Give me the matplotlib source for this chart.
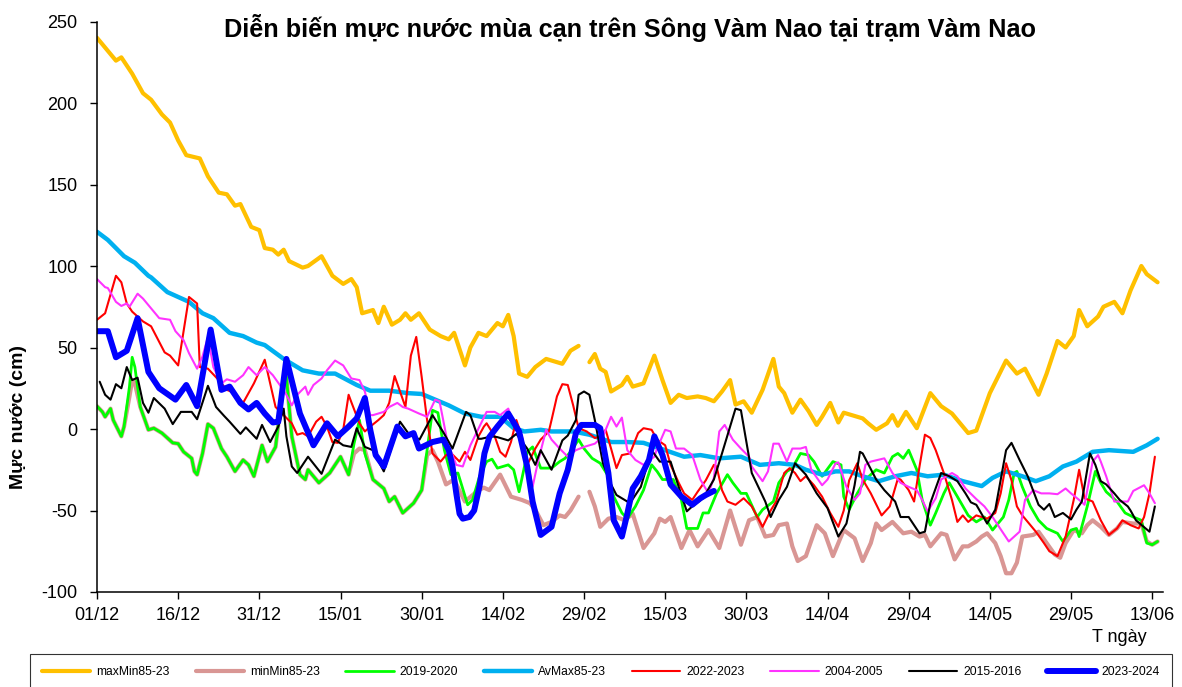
import numpy as np
import matplotlib
matplotlib.use("Agg")
import matplotlib.pyplot as plt

nan = np.nan

# ---------------- data (day offset from 01/12, value in cm) ----------------
tick_days = [0, 15, 30, 45, 60, 75, 90, 105, 120, 135, 150, 165, 180, 195]
tick_labels = ["01/12", "16/12", "31/12", "15/01", "30/01", "14/02", "29/02",
               "15/03", "30/03", "14/04", "29/04", "14/05", "29/05", "13/06"]

maxmin_d = [0, 3.5, 4.5, 6.5, 8.5, 10, 12, 13.5, 15, 16.5,
            19, 20.5, 22.5, 24, 25.5, 26.5, 28.5, 30, 31, 32.5,
            33.5, 34.5, 35.5, 38, 39, 41.5, 43.5, 45.5, 47, 48,
            49, 51, 52, 53, 54.5, 56, 57, 58, 59.5, 61.5,
            63.5, 65, 66, 68, 69, 70.5, 72, 74, 75, 76,
            77, 78, 79.5, 81, 83, 86, 87.5, 89, 90, 91,
            92, 93, 94, 95, 96.5, 97, 98, 99, 101, 103,
            104.5, 106, 107.5, 109, 111, 112.5, 114, 115.5, 117, 118,
            119.5, 121, 123, 125, 126, 127, 128.5, 130, 131.5, 133,
            134, 135.5, 137, 138, 141.5, 142.5, 144, 146, 147, 148,
            149.5, 151.5, 154, 156, 158, 161, 162.5, 165, 166.5, 168,
            170, 171.5, 174, 175.5, 177.5, 179, 180.5, 181.5, 183, 185,
            186, 188, 189.5, 191, 193, 194, 196]
maxmin_v = [240, 226, 228, 218, 206, 202, 193, 188, 177, 168,
            166, 155, 145, 144, 137, 138, 124, 122, 111, 110,
            107, 110, 103, 99, 100, 106, 94, 89, 92, 87,
            71, 73, 65, 75, 64, 67, 71, 67, 71, 61,
            57, 55, 59, 39, 50, 59, 57, 65, 63, 70,
            57, 34, 32, 38, 43, 40, 48, 51, nan, 41,
            46, 37, 35, 23, 26, 27, 32, 26, 28, 45,
            30, 16, 21, 19, 20, 19, 17, 23, 30, 15,
            17, 10, 24, 43, 26, 22, 10, 18, 11, 2.5,
            7.5, 16, 4, 10, 6.5, 3.5, -0.5, 3.5, 8.5, 2,
            10.5, 0.5, 22, 14, 9.5, -2.5, -1, 22, 32, 42,
            34, 37, 21, 34, 54, 50, 57, 73, 63, 69,
            75, 78, 71, 85, 100, 95, 90]

minmin_d = [0, 1, 1.5, 2.5, 3, 4.5, 5, 6, 6.5, 7,
            8, 9.5, 10.5, 12, 14, 15, 16, 17.5, 18, 18.5,
            19.5, 20.5, 21.5, 23, 24, 25.5, 27, 28, 29, 30.5,
            31.5, 33, 34.5, 35, 36, 37.5, 38.5, 39, 41, 43,
            45, 46.5, 47.5, 48.5, 49.5, 51, 53, 54, 55, 56.5,
            58.5, 60, 61, 62, 63, 64.5, 66, 67, 68, 70.5,
            71.5, 72.5, 74.5, 76.5, 78.5, 80, 81, 82.5, 84, 85.5,
            86.5, 87.5, 89, 90, 91, 92, 93, 94.5, 96, 97.5,
            99, 101, 103, 104, 105, 106, 108, 109.5, 111, 113,
            115, 117, 119, 120.5, 122, 123.5, 125, 126, 127.5, 128.5,
            129.5, 131, 133, 134.5, 136, 138, 140, 141.5, 143, 144,
            145, 147, 149, 150.5, 152, 153, 154, 156, 157, 158.5,
            160, 161, 162.5, 163.5, 164.5, 166, 167, 168, 169, 170,
            171, 173, 174, 175.5, 177, 178, 179, 180.5, 182, 183,
            184, 185.5, 187, 188.5, 189.5, 191.5, 193, 194, 195, 196]
minmin_v = [14, 10.5, 7.5, 12.5, 5.5, -4.5, 1.5, 20, 30, 28,
            13.5, -0.5, 0.5, -2.5, -8.5, -9, -14, -18, -26, -28,
            -15, 3, 0.5, -12, -17, -26, -19, -22, -29, -10,
            -20, -11, 30, 32, -4.5, -28, -31, -25, -33, -27,
            -17, -28, -15, -12, -13, -31, -36.5, -44.5, -41.5, -51.5,
            -45.5, -37.5, -16, -13, -20, -34, -31, -38, -44.5, -37.5,
            -36, -37.5, -28, -41.5, -43.5, -45.5, -49.5, -59, -57, -53,
            -54, -50, -41.5, nan, -38.5, -47.5, -60, -55, -54, -56,
            -52, -73, -64, -55, -57, -54, -73, -62, -72, -62,
            -73, -50, -71, -56, -54, -66, -65, -59, -58, -72,
            -81, -78, -59, -64, -78, -62, -67, -81, -70, -58,
            -62, -57, -64, -63, -66, -65, -72, -64, -65, -80,
            -72, -72, -69, -66, -64, -70, -78, -88.5, -88.5, -82,
            -66, -65, -63, -70, -77, -79, -70, -62, -64, -59,
            -56, -60, -65, -61, -57, -58, -58, -69, -71, -69]

y2019_d = [0, 1, 1.5, 2.5, 3, 4.5, 5, 6, 6.5, 7,
           8, 9.5, 10.5, 12, 14, 15, 16, 17.5, 18, 18.5,
           19.5, 20.5, 21.5, 23, 24, 25.5, 27, 28, 29, 30.5,
           31.5, 33, 34.5, 35, 36, 37.5, 38.5, 39, 41, 43,
           45, 46.5, 47.5, 48.5, 49.5, 51, 53, 54, 55, 56.5,
           58.5, 60, 61, 62, 63, 64.2, 65.4, 66.7, 68.5, 69.4,
           70.7, 72, 73, 74, 76, 77, 78, 79, 79.5, 80.5,
           82, 84, 85.5, 86.5, 87.5, 89, 90, 91.5, 93, 94.5,
           95.5, 97, 98, 99.5, 101, 102.5, 103.5, 104.5, 106.5, 108,
           109, 111, 112, 113, 114.5, 116.5, 117.5, 119, 120, 122,
           123, 125, 126, 127.5, 128.5, 130, 131.5, 132.5, 134, 136,
           137.5, 138, 139, 140.5, 142, 144, 145.5, 147, 148, 149,
           150, 151.5, 152.5, 154, 155, 156.5, 157.5, 159, 161, 162.5,
           164, 165.5, 167.5, 168.5, 169.5, 170, 171, 172.5, 174, 175.5,
           177.5, 178.5, 180, 181, 181.5, 183, 184.5, 185.5, 186.5, 188.5,
           190, 191.5, 193, 194, 195, 196]
y2019_v = [14, 10.5, 7.5, 12.5, 5.5, -4.5, 1.5, 26, 44, 38,
           13.5, -0.5, 0.5, -2.5, -8.5, -9, -14, -18, -26, -28,
           -15, 3, 0.5, -12, -17, -26, -19, -22, -29, -10,
           -20, -11, 30, 32, -4.5, -28, -31, -25, -33, -27,
           -17, -28, -9, 5.5, -15, -31, -36.5, -44.5, -41.5, -51.5,
           -45.5, -37.5, -13, 11.5, 10, -13, -28, -27, -46.5, -43.5,
           -29, -20, -18.5, -24, -22, -25, -38.5, -23, -14, -11,
           -24, -24, -20, -18, -14, -6.5, -12, -18, -21, -29,
           -41.5, -51.5, -55, -47.5, -37.5, -22, -26, -31, -31, -43.5,
           -61, -61, -51.5, -51.5, -39.5, -28, -33, -39.5, -39.5, -54,
           -49.5, -44.5, -33, -26, -24, -15, -16, -20, -29, -20,
           -22, -41.5, -49.5, -39.5, -31, -25, -27, -17, -15, -18,
           -13, -25, -43.5, -59, -51.5, -39.5, -33, -41.5, -53, -57,
           -54, -62, -54, -43.5, -27, -26, -35.5, -47.5, -56, -61,
           -64, -69, -62, -61, -66, -47.5, -26, -33, -38.5, -44.5,
           -51.5, -54, -56, -70, -71, -69]

avmax_d = [0, 2, 5, 7, 9.5, 10, 13, 17, 19.5, 21.5,
           24.5, 27, 29.5, 31, 34.5, 38, 41, 44, 48, 50.5,
           54, 57.5, 60, 62.5, 65, 68, 71, 74.5, 77, 79,
           82, 84, 88, 91, 95, 98, 101, 105, 108.5, 111.5,
           115, 119, 122.5, 126, 129, 131, 134, 136.5, 139, 141.5,
           144.5, 147.5, 150.5, 153.5, 156.5, 160, 163.5, 165.5, 168, 171,
           173.5, 176, 178.5, 181, 184, 187, 191.5, 194, 196]
avmax_v = [121, 116, 106, 102, 94, 93, 84, 78, 71, 68,
           59, 57, 53, 51.5, 43, 36, 34, 34, 27, 23.5,
           23.5, 22, 21.5, 18, 14.5, 9.5, 7.5, 7.5, 0.5, -1.5,
           -0.5, -1.5, -1.5, -3.5, -8, -8, -8.5, -13, -17, -16,
           -18, -17, -22, -21, -22, -25, -28, -26, -26, -29,
           -32, -29, -27, -29, -28, -32, -35, -30, -26, -29,
           -32, -29, -23, -20, -14, -13, -14, -10, -6]

y2022_d = [0, 1.5, 3.5, 4.5, 5.5, 6.5, 8.5, 10, 12.5, 13.5,
           15, 17, 18.5, 19, 20.5, 22.5, 24, 25.5, 27, 29,
           31, 33, 34.5, 36, 37, 38, 39, 40.5, 41.5, 42.5,
           43.5, 44.5, 45.5, 46.5, 47, 48.5, 49.5, 50.5, 52, 53,
           54, 55, 56, 57, 58, 59, 60, 61, 62, 63.5,
           64.5, 65.5, 67, 68, 69, 70.5, 71.5, 72, 73.5, 74.5,
           75.5, 76.5, 77.5, 78.5, 79.5, 81, 82, 83.5, 84, 85,
           86, 87, 88, 89, 90.5, 92, 93, 94, 95, 96,
           97, 98.5, 100, 101, 102.5, 103.5, 105, 106, 107.5, 108.5,
           110, 111, 112.5, 114, 114.5, 115.5, 116.5, 118, 119.5, 121,
           123, 124.5, 125.5, 127, 128, 129, 130, 131, 132.5, 134,
           135.5, 137, 138, 139, 140.5, 141.5, 143, 145, 146.5, 148,
           148.5, 150, 151, 152, 153, 154, 155, 156.5, 158, 159,
           160, 161, 162.5, 164.5, 166, 167, 168, 169, 170, 171,
           172.5, 173.5, 175, 176, 177.5, 179, 180.5, 181.5, 182.5, 184,
           185.5, 187, 188.5, 189.5, 191, 192.5, 193.5, 194.5, 195.5]
y2022_v = [67, 71, 94, 90, 77, 72, 66, 63, 47, 45,
           39, 81, 77, 38, 37, 30, 24, 22, 16, 28,
           42.5, 13.5, 8.5, 3.5, -3.5, -2.5, -4.5, 4.5, 7.5, 1.5,
           -8, -8.5, -0.5, 21, 16.5, 3.5, -1.5, 1.5, 5.5, 8.5,
           16, 32.5, 23, 13.5, 45, 56.5, 32, 5.5, -15, -20,
           -16, -15, -20, -14, -19, -4.5, 1.5, 3.5, -4.5, -14,
           -17, -8, 5.5, -4.5, -22, -12, -6.5, -1.5, 5.5, 20,
           27.5, 27, 14.5, 0.5, -1.5, -5.5, -4.5, -0.5, -12, -24,
           -16, -15, -2.5, 0.5, -0.5, -6.5, -10, -22, -33, -39.5,
           -43.5, -38.5, -31.5, -22, -23, -37.5, -44.5, -46.5, -42.5, -47.5,
           -60, -50, -44.5, -27, -24, -27, -32, -29, -34.5, -41.5,
           -51.5, -60, -50, -31.5, -21, -31, -39.5, -53, -47.5, -30.5,
           -31, -37.5, -44.5, -23, -3.5, -5.5, -13, -27, -43.5, -57,
           -53, -57, -53, -55, -51.5, -39.5, -21, -31.5, -47.5, -53,
           -59, -63, -70, -75, -78, -66, -43.5, -25, -42.5, -44.5,
           -56, -65, -61, -56, -59, -61, -54, -39.5, -17]

y2004_d = [0, 1.5, 2, 3.5, 4.5, 5.5, 6, 7.5, 8.5, 10,
           11.5, 13.5, 14.5, 16, 17, 18.5, 19.5, 20.5, 21.5, 23,
           24, 25.5, 27, 28, 29.5, 31, 32.5, 34, 35, 36,
           37, 38.5, 39, 40, 41.5, 42.5, 44, 45.5, 47, 48.5,
           49.5, 50.5, 51, 53, 54, 55.5, 56.5, 57.5, 59.5, 61,
           62.5, 63.3, 64.8, 66.4, 67.6, 69, 72, 73.5, 74.5, 76,
           77, 78.5, 79.5, 80.5, 81.5, 83, 84, 85.5, 87, 88.5,
           90, 92, 93.5, 95, 96, 97, 98, 99.5, 101, 103,
           103.5, 105, 106, 107, 108.5, 110, 111.5, 113, 114, 115,
           116, 117.5, 119, 120.5, 121, 123, 124, 125, 126, 127.5,
           128.5, 130, 131, 132, 134, 135, 136.5, 137, 138.5, 140,
           141, 142, 143, 145.5, 147, 148.5, 150, 151.5, 152.5, 153.5,
           155, 156, 158, 159, 160.5, 162.5, 164, 165.5, 167.5, 168.5,
           170.5, 171.5, 173, 174.5, 176, 177.5, 179, 180, 181.5, 182.5,
           184, 185, 185.5, 186.5, 188, 189, 190.5, 191.5, 193.5, 194.5,
           195.5]
y2004_v = [92, 87, 86.5, 78, 75.5, 77, 75, 83, 80, 74,
           68, 67, 60, 54.5, 46.5, 37, 44.5, 56.5, 38, 28,
           30.5, 29, 33, 38, 33, 38, 33, 26, 21, 14.5,
           21, 26, 21, 27, 31, 36, 42, 39, 31, 30,
           23, 8.5, 8.5, 10.5, 13.5, 16, 13.5, 12.5, 9.5, 7.5,
           18, 17, -8.5, -22, -23, -10, 10.5, 10.5, 8.5, 12.5,
           3.5, -4.5, -19, -35.5, -20, -0.5, -6.5, -12, -17, -13,
           -11, -9, -4.5, 7.5, 1.5, 7, -13, -19, -22, -17,
           -12, -0.5, -1.5, -12, -12, -16, -31, -39.5, -30, -1.5,
           2.5, -6.5, -12, -17, -23, -32, -26, -9, -9, -20,
           -12, -12, -11, -25, -34.5, -31, -21, -20.5, -35.5, -43.5,
           -39.5, -22, -20, -18, -27, -33, -35.5, -37.5, -43.5, -50.5,
           -42.5, -31, -27, -29, -36.5, -43, -47.5, -54, -64, -69,
           -63, -43.5, -37.5, -39.5, -39.5, -40, -36.5, -39.5, -43.5, -46.5,
           -20, -16, -20, -29, -44.5, -44.5, -44.5, -38, -34.5, -39.5,
           -45.5]

y2015_d = [0.5, 1.5, 2.5, 3.5, 4.5, 5.5, 6.5, 7.5, 8.5, 9.5,
           10.5, 12.5, 14, 15.5, 17.5, 18.5, 20.5, 22, 23.5, 24.5,
           26.5, 27.5, 29.5, 30.5, 32, 33.5, 34.5, 35, 36, 37,
           39, 41.5, 44, 45.5, 47, 48, 49.5, 51, 53, 56,
           57.5, 59.6, 62, 64, 65.7, 68.2, 69, 70.5, 71, 73,
           74, 76, 77.5, 79.5, 81, 82, 84, 86, 87, 88.5,
           89, 90, 91, 92, 93.5, 95, 96, 97.5, 98.5, 100.5,
           102.5, 104, 106, 107.5, 109, 110, 112, 114, 115.5, 118,
           119, 121, 123.5, 124.5, 126, 127.5, 129, 131, 133, 135,
           137, 138.5, 140, 141, 141.5, 144, 145.5, 147.5, 148.5, 150,
           152, 153, 154, 156, 157.5, 159, 160.5, 161.5, 162.5, 164.5,
           166, 168, 169, 170.5, 172, 174, 175, 176, 177, 178.5,
           180, 181, 182, 183.5, 184.5, 185.5, 186.5, 188, 189, 190.5,
           191, 192, 194.5, 195.5]
y2015_v = [29, 21, 18, 27.5, 25, 38, 30, 31.5, 16, 10,
           19, 12.5, 3, 10.5, 10.5, 6, 26.5, 13.5, 8, 4.5,
           -3, 1, -6, 2.5, -8, 1.5, 12.5, -4.5, -23, -27,
           -17, -27.5, -6.5, -10, -11, 0.5, -11, -13, -26, 4.5,
           -2.5, -6.5, 8.5, -2, -12, 10.5, 8.5, -6, -6, -4.5,
           -5, -7, -3, -12, -22, -13, -25, -7, -4, 5.5,
           21, 23, 21, 5.5, -21, -34, -40.5, -43.5, -45.5, -35.5,
           -13, -20, -20, -35.5, -50.5, -47.5, -42.5, -31, -15, 12.5,
           11.5, -27, -44.5, -54, -43.5, -35.5, -21, -28, -39.5, -48.5,
           -66, -58, -34.5, -14, -15, -31, -37.5, -44.5, -54, -54,
           -64, -63, -45.5, -27, -29, -32, -39.5, -45, -46.5, -58,
           -49.5, -13, -8.5, -19, -29, -46.5, -49.5, -46, -54, -51.5,
           -55.5, -49.5, -44.5, -15, -22, -32, -34, -39.5, -43.5, -47.5,
           -50, -56, -63, -47.5]

y2023_d = [0, 2, 3.5, 5.5, 7.5, 9.5, 11.5, 14.5, 16.5, 18.5,
           21, 23, 24.5, 26.5, 28, 29.5, 31, 32.5, 33.5, 35,
           37.5, 40, 42.5, 44.5, 46.5, 48, 49.5, 50.5, 51.5, 53,
           55.5, 57, 58.5, 59.5, 62, 64, 65, 65.7, 66.4, 67,
           67.6, 68.8, 69.7, 70.7, 71.6, 72.5, 74, 76, 78, 79.5,
           80.5, 82, 84, 85.5, 87, 88.5, 89.5, 92, 93, 94.5,
           95.5, 97, 98, 99, 100.5, 102, 103, 104.5, 106, 108,
           110, 111.5, 112.5, 114]
y2023_v = [60, 60, 44, 48, 68, 35, 25, 18, 27, 14,
           61, 24, 26, 16, 12, 16, 9.5, 4, 4.5, 43,
           9.5, -10, 3.5, -4.5, 1.5, 6.5, 19, -0.5, -16, -23,
           1.5, -4.5, -2.5, -12, -8, -6.5, -13, -23, -39.5, -52,
           -55, -54, -50, -35, -15, -5, 1.5, 9.5, -1.5, -23,
           -44.5, -65, -60, -39.5, -25, -2.5, 2.5, 2.5, 0.5, -27,
           -56, -66, -52, -36.5, -29, -19, -4.5, -16, -34, -41.5,
           -46.5, -42.5, -40.5, -38]

series = [
    ("maxMin85-23", maxmin_d, maxmin_v, "#FFC000", 3.0),
    ("minMin85-23", minmin_d, minmin_v, "#D99694", 3.0),
    ("2019-2020", y2019_d, y2019_v, "#00FF00", 2.0),
    ("AvMax85-23", avmax_d, avmax_v, "#00B0F0", 3.2),
    ("2022-2023", y2022_d, y2022_v, "#FF0000", 1.5),
    ("2004-2005", y2004_d, y2004_v, "#FF33FF", 1.5),
    ("2015-2016", y2015_d, y2015_v, "#000000", 1.5),
    ("2023-2024", y2023_d, y2023_v, "#0000FF", 4.3),
]

plt.rcParams["font.family"] = ["Liberation Sans", "DejaVu Sans"]
plt.rcParams["axes.unicode_minus"] = False

W, H = 1182, 687
fig = plt.figure(figsize=(W / 100, H / 100), dpi=100)
ax_l, ax_r, ax_t, ax_b = 97, 1163, 21.5, 592
ax = fig.add_axes([ax_l / W, 1 - ax_b / H, (ax_r - ax_l) / W, (ax_b - ax_t) / H])

for name, d, v, c, lw in series:
    ax.plot(d, v, color=c, lw=lw, label=name, solid_joinstyle="round",
            solid_capstyle="round")

ax.set_xlim(0, 197)
ax.set_ylim(-100, 250)
ax.set_yticks(range(-100, 251, 50))
ax.set_xticks(tick_days)
ax.set_xticklabels(tick_labels)
for s in ["top", "right"]:
    ax.spines[s].set_visible(False)
for s in ["left", "bottom"]:
    ax.spines[s].set_linewidth(1.1)
ax.tick_params(axis="both", labelsize=13, direction="out", length=5, width=1)
ax.tick_params(axis="y", pad=9)
ax.tick_params(axis="x", pad=6)

fig.text(630 / W, 1 - 28 / H, "Diễn biến mực nước mùa cạn trên Sông Vàm Nao tại trạm Vàm Nao",
         ha="center", va="center", fontsize=18.2, fontweight="bold")
fig.text(19 / W, 1 - 417 / H, "Mực nước (cm)", rotation=90, ha="center", va="center",
         fontsize=14, fontweight="bold")
fig.text(1147 / W, 1 - 637 / H, "T ngày", ha="right", va="center", fontsize=13)

handles, labels = ax.get_legend_handles_labels()
leg = fig.legend(handles, labels, loc="upper left", ncol=8, mode="expand",
                 bbox_to_anchor=(30 / W, 1 - 655 / H, 1142 / W, 0.001),
                 borderaxespad=0, fontsize=8.7, frameon=True, fancybox=False,
                 edgecolor="black", handlelength=4.0, handletextpad=0.5,
                 borderpad=1.0, columnspacing=1.0)
leg.get_frame().set_linewidth(0.8)

fig.savefig("out.png", dpi=100)
